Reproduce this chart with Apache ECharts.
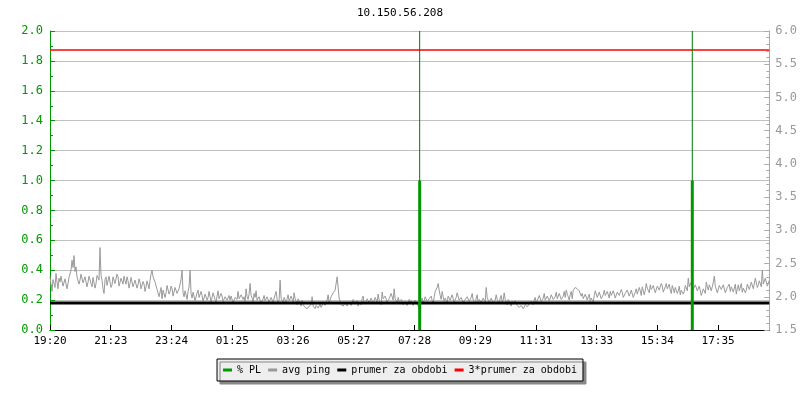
<!DOCTYPE html>
<html>
<head>
<meta charset="utf-8">
<script src="https://cdn.jsdelivr.net/npm/echarts@6/dist/echarts.min.js"></script>
<style>
  html, body { margin: 0; padding: 0; background: #fff; }
  #chart { width: 800px; height: 400px; }
</style>
</head>
<body>
<div id="chart"></div>
<script>
// x axis: minutes since 19:20, tick labels as printed
var xLabels = ['19:20', '21:23', '23:24', '01:25', '03:26', '05:27', '07:28', '09:29', '11:31', '13:33', '15:34', '17:35'];
var xMax = 1438;
var xTickStep = 121.43;
var sampleStep = 2; // minutes between ping samples

// avg ping (right axis), one value every 2 minutes
var avgPing = [
  2.30, 2.18, 2.08, 2.26, 2.25, 2.14, 2.35, 2.22, 2.12, 2.28, 2.22, 2.31, 2.30, 2.16, 2.18, 2.27, 2.26, 2.12, 2.20, 2.29,
  2.28, 2.40, 2.55, 2.44, 2.62, 2.38, 2.45, 2.30, 2.30, 2.19, 2.25, 2.34, 2.33, 2.21, 2.18, 2.30, 2.28, 2.15, 2.22, 2.31,
  2.30, 2.20, 2.15, 2.29, 2.27, 2.13, 2.20, 2.32, 2.35, 2.25, 2.74, 2.32, 2.25, 2.12, 2.05, 2.26, 2.30, 2.17, 2.20, 2.31,
  2.28, 2.14, 2.18, 2.30, 2.33, 2.20, 2.22, 2.34, 2.30, 2.16, 2.15, 2.28, 2.27, 2.19, 2.31, 2.24, 2.19, 2.30, 2.24, 2.13,
  2.20, 2.29, 2.26, 2.15, 2.12, 2.25, 2.24, 2.13, 2.18, 2.27, 2.22, 2.12, 2.10, 2.23, 2.19, 2.08, 2.15, 2.24, 2.21, 2.12,
  2.25, 2.34, 2.40, 2.30, 2.32, 2.22, 2.20, 2.11, 2.12, 2.00, 2.02, 2.14, 1.97, 2.10, 2.10, 1.99, 2.06, 2.17, 2.15, 2.04,
  2.08, 2.16, 2.12, 2.01, 2.02, 2.14, 2.15, 2.05, 2.05, 2.12, 2.10, 2.26, 2.40, 2.06, 2.00, 2.09, 2.03, 1.96, 2.08, 2.15,
  2.40, 2.05, 1.98, 2.07, 2.05, 1.94, 1.95, 2.06, 2.10, 1.99, 1.98, 2.08, 2.02, 1.93, 1.93, 2.04, 2.06, 1.95, 1.99, 2.08,
  2.00, 1.92, 1.95, 2.06, 2.04, 1.96, 1.92, 2.01, 2.09, 1.97, 1.97, 2.05, 2.01, 1.93, 1.94, 2.00, 2.03, 1.95, 1.96, 2.02,
  1.95, 2.01, 1.98, 1.91, 1.90, 1.99, 2.02, 1.96, 2.08, 1.97, 1.94, 2.03, 2.05, 1.96, 2.00, 1.93, 2.12, 2.00, 1.96, 2.04,
  2.20, 2.02, 1.98, 1.92, 2.05, 1.99, 2.09, 1.95, 1.92, 2.00, 1.97, 1.90, 1.90, 1.97, 2.02, 1.94, 1.95, 2.00, 1.99, 1.92,
  1.93, 1.99, 2.00, 1.92, 1.95, 2.03, 2.08, 1.96, 1.90, 1.95, 2.25, 1.98, 1.96, 1.91, 1.99, 2.02, 1.92, 1.97, 2.03, 1.94,
  1.95, 2.01, 2.00, 1.92, 2.06, 1.97, 1.93, 1.88, 1.97, 2.00, 1.90, 1.86, 1.95, 1.88, 1.88, 1.84, 1.86, 1.82, 1.84, 1.86,
  1.85, 1.88, 2.00, 1.86, 1.84, 1.82, 1.87, 1.89, 1.83, 1.86, 1.89, 1.84, 1.86, 1.90, 1.92, 1.87, 1.88, 1.95, 2.03, 1.90,
  1.95, 2.00, 1.98, 2.06, 2.05, 2.10, 2.08, 2.30, 2.30, 1.98, 1.95, 1.88, 1.90, 1.86, 1.87, 1.91, 1.93, 1.86, 1.89, 1.92,
  1.92, 1.87, 1.88, 1.96, 1.95, 1.89, 1.90, 1.94, 1.86, 1.91, 1.94, 1.88, 1.97, 2.01, 1.89, 1.87, 1.92, 1.97, 2.00, 1.91,
  1.93, 1.98, 1.96, 1.89, 1.90, 1.99, 1.98, 1.92, 2.04, 1.95, 1.92, 1.88, 2.07, 1.97, 1.95, 2.01, 1.99, 1.92, 1.91, 1.97,
  1.97, 2.05, 2.03, 1.95, 2.12, 1.97, 1.94, 1.90, 1.99, 1.93, 1.90, 1.96, 1.95, 1.88, 1.88, 1.93, 1.93, 1.87, 1.92, 1.96,
  1.90, 1.94, 1.93, 1.87, 1.88, 1.95, 1.95, 1.89, 1.92, 1.82, 1.86, 1.93, 1.98, 1.90, 1.94, 2.00, 2.02, 1.93, 1.91, 1.97,
  1.96, 2.01, 1.94, 1.89, 2.00, 2.08, 2.06, 2.14, 2.20, 2.10, 2.02, 1.96, 2.08, 2.00, 1.93, 1.98, 1.97, 1.91, 2.01, 2.04,
  1.95, 1.92, 2.03, 1.97, 1.92, 1.89, 1.99, 2.06, 2.05, 1.95, 1.93, 1.99, 1.97, 1.91, 1.90, 1.96, 1.96, 2.00, 2.02, 1.93,
  1.94, 1.99, 2.05, 1.95, 1.92, 1.89, 1.98, 2.03, 1.90, 1.96, 1.96, 1.91, 1.93, 1.98, 2.00, 1.92, 2.14, 1.99, 1.95, 1.90,
  1.92, 1.98, 1.97, 1.90, 1.90, 1.95, 2.03, 1.96, 1.94, 1.89, 1.98, 2.02, 1.91, 1.95, 2.06, 1.96, 1.93, 1.88, 1.96, 1.99,
  1.90, 1.86, 1.93, 1.89, 1.88, 1.94, 1.95, 1.87, 1.86, 1.84, 1.83, 1.87, 1.87, 1.82, 1.84, 1.88, 1.88, 1.85, 1.85, 1.89,
  1.89, 1.93, 1.92, 1.88, 1.95, 1.99, 1.90, 1.94, 1.97, 2.02, 2.00, 1.93, 1.93, 1.98, 2.05, 1.95, 1.96, 2.01, 2.02, 1.94,
  1.98, 2.03, 2.04, 1.96, 1.95, 2.00, 2.07, 1.97, 1.99, 2.05, 2.02, 1.96, 1.94, 2.01, 2.08, 1.99, 2.10, 2.04, 2.00, 1.95,
  2.03, 2.08, 1.97, 2.10, 2.13, 2.14, 2.14, 2.12, 2.12, 2.09, 2.10, 2.01, 2.05, 1.97, 1.98, 2.04, 2.02, 1.95, 2.00, 2.04,
  1.93, 1.98, 1.97, 1.92, 2.02, 2.09, 2.08, 1.99, 2.00, 2.07, 2.06, 1.97, 1.96, 2.03, 2.10, 2.02, 2.02, 2.08, 2.05, 1.98,
  2.08, 2.02, 2.00, 2.09, 2.06, 1.98, 1.98, 2.07, 2.10, 2.02, 2.03, 2.11, 2.07, 1.99, 1.97, 2.05, 2.04, 2.10, 2.09, 2.01,
  2.02, 2.10, 2.08, 1.99, 2.00, 2.07, 2.12, 2.04, 2.05, 2.14, 2.09, 2.02, 2.15, 2.18, 2.03, 2.10, 2.20, 2.13, 2.12, 2.06,
  2.18, 2.11, 2.10, 2.17, 2.15, 2.06, 2.07, 2.16, 2.19, 2.10, 2.12, 2.20, 2.16, 2.07, 2.08, 2.15, 2.20, 2.12, 2.13, 2.19,
  2.10, 2.05, 2.17, 2.12, 2.06, 2.14, 2.14, 2.05, 2.09, 2.16, 2.03, 2.10, 2.12, 2.04, 2.08, 2.17, 2.18, 2.09, 2.28, 2.15,
  2.15, 2.22, 2.25, 2.11, 2.10, 2.18, 2.20, 2.09, 2.08, 2.16, 2.16, 2.02, 2.02, 2.12, 2.13, 2.05, 2.22, 2.15, 2.10, 2.18,
  2.18, 2.09, 2.12, 2.22, 2.31, 2.16, 2.14, 2.06, 2.05, 2.17, 2.20, 2.11, 2.09, 2.18, 2.15, 2.06, 2.06, 2.14, 2.12, 2.19,
  2.08, 2.15, 2.16, 2.07, 2.10, 2.19, 2.04, 2.12, 2.18, 2.09, 2.12, 2.20, 2.07, 2.13, 2.14, 2.06, 2.10, 2.19, 2.17, 2.11,
  2.13, 2.22, 2.20, 2.12, 2.15, 2.28, 2.25, 2.14, 2.18, 2.24, 2.23, 2.15, 2.40, 2.19, 2.17, 2.28, 2.26, 2.16, 2.20, 2.25
];

// packet loss events (left axis, %)
var plTimes = [739, 1284];
var plValues = [1.0, 1.0];
var plPeaks = [2.0, 2.0];

// average over the period (right axis)
var meanPing = 1.905;

var pingData = avgPing.map(function (v, i) { return [i * sampleStep, v]; });
var plData = plTimes.map(function (t, i) { return [t, plValues[i]]; });
var plPeakData = [];
plTimes.forEach(function (t, i) {
  plPeakData.push([t, 0], [t, plPeaks[i]], [t, '-']);
});

var FONT = 'DejaVu Sans Mono';

var chart = echarts.init(document.getElementById('chart'));
var option = {
  backgroundColor: '#fff',
  animation: false,
  title: {
    text: '10.150.56.208',
    left: 'center',
    top: 3,
    textStyle: { fontFamily: FONT, fontSize: 11, fontWeight: 'normal', color: '#000' }
  },
  legend: {
    left: 'center',
    top: 359,
    icon: 'rect',
    itemWidth: 9,
    itemHeight: 3,
    itemGap: 7,
    padding: [6, 6],
    backgroundColor: '#eeeeee',
    borderColor: '#000',
    borderWidth: 1,
    shadowColor: '#888',
    shadowOffsetX: 3,
    shadowOffsetY: 3,
    shadowBlur: 0,
    textStyle: { fontFamily: FONT, fontSize: 10, color: '#000' },
    data: ['% PL', 'avg ping', 'prumer za obdobi', '3*prumer za obdobi']
  },
  grid: { left: 50, right: 30, top: 31, bottom: 70, containLabel: false },
  xAxis: {
    type: 'value',
    min: 0,
    max: xMax,
    interval: xTickStep,
    axisLine: { lineStyle: { color: '#000', width: 1 } },
    axisTick: { inside: true, length: 5, lineStyle: { color: '#000' } },
    axisLabel: {
      showMaxLabel: false,
      color: '#000',
      fontFamily: FONT,
      fontSize: 11,
      margin: 6,
      formatter: function (v) {
        var i = Math.round(v / xTickStep);
        return xLabels[i] || '';
      }
    },
    splitLine: { show: false }
  },
  yAxis: [
    {
      type: 'value',
      min: 0,
      max: 2,
      interval: 0.2,
      position: 'left',
      axisLine: { show: true, lineStyle: { color: '#009900', width: 1 } },
      axisTick: { show: true, inside: true, length: 5, lineStyle: { color: '#009900' } },
      minorTick: { show: true, splitNumber: 2, length: 3, lineStyle: { color: '#009900' } },
      axisLabel: {
        color: '#009900',
        fontFamily: FONT,
        fontSize: 12,
        margin: 7,
        formatter: function (v) { return v.toFixed(1); }
      },
      splitLine: { show: true, lineStyle: { color: '#c0c0c0', width: 1 } }
    },
    {
      type: 'value',
      min: 1.5,
      max: 6,
      interval: 0.5,
      position: 'right',
      axisLine: { show: true, lineStyle: { color: '#aaaaaa', width: 1 } },
      axisTick: { show: true, inside: true, length: 5, lineStyle: { color: '#aaaaaa' } },
      minorTick: { show: true, splitNumber: 5, length: 3, lineStyle: { color: '#aaaaaa' } },
      axisLabel: {
        color: '#999999',
        fontFamily: FONT,
        fontSize: 12,
        margin: 6,
        formatter: function (v) { return v.toFixed(1); }
      },
      splitLine: { show: false }
    }
  ],
  series: [
    {
      name: '% PL',
      type: 'bar',
      yAxisIndex: 0,
      data: plData,
      barWidth: 3,
      color: '#009900',
      itemStyle: { color: '#009900' },
      z: 5
    },
    {
      name: 'avg ping',
      type: 'line',
      yAxisIndex: 1,
      data: pingData,
      symbol: 'none',
      color: '#999999',
      lineStyle: { color: '#999999', width: 1 },
      z: 2
    },
    {
      name: 'prumer za obdobi',
      type: 'line',
      yAxisIndex: 1,
      data: [[0, meanPing], [xMax, meanPing]],
      symbol: 'none',
      color: '#000',
      lineStyle: { color: '#000', width: 3 },
      z: 3
    },
    {
      name: '3*prumer za obdobi',
      type: 'line',
      yAxisIndex: 1,
      data: [[0, meanPing * 3], [xMax, meanPing * 3]],
      symbol: 'none',
      color: '#ff0000',
      lineStyle: { color: '#ff0000', width: 1.5 },
      z: 3
    },
    {
      name: '% PL',
      type: 'line',
      yAxisIndex: 0,
      data: plPeakData,
      symbol: 'none',
      connectNulls: false,
      color: '#007a00',
      lineStyle: { color: '#007a00', width: 1 },
      z: 4
    }
  ]
};
chart.setOption(option);
</script>
</body>
</html>
